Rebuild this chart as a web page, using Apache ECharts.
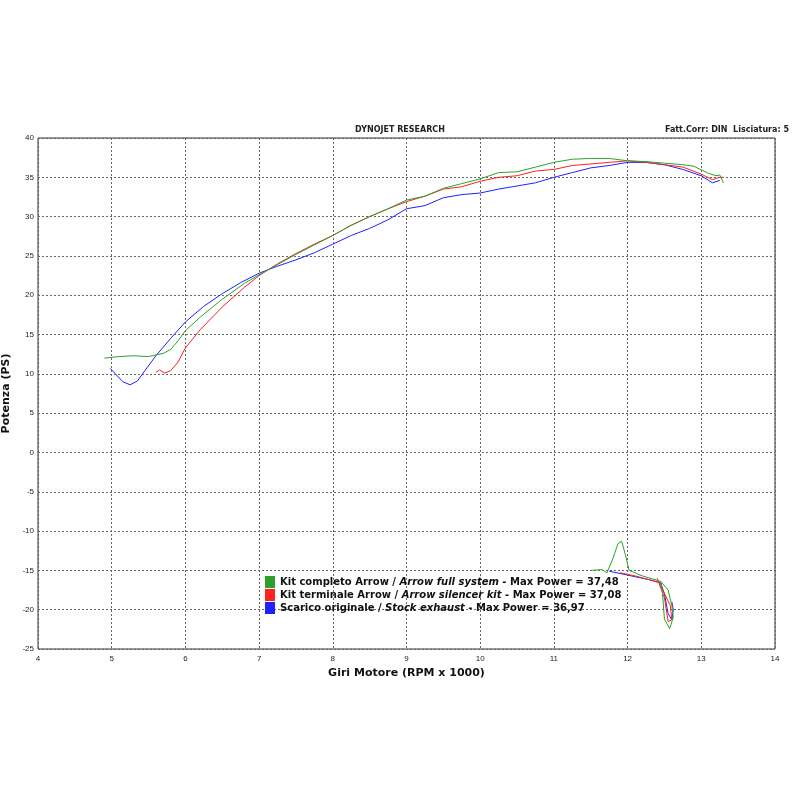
<!DOCTYPE html><html><head><meta charset="utf-8"><script src="https://cdn.jsdelivr.net/npm/echarts@6/dist/echarts.min.js"></script></head><body style="margin:0"><div id="c" style="width:800px;height:800px"></div><script>
const greenMain=[[4.9,12],[5.1,12.2],[5.3,12.3],[5.5,12.2],[5.7,12.6],[5.8,13.1],[5.9,14.2],[6,15.5],[6.2,17.2],[6.5,19.5],[6.8,21.5],[7,22.6],[7.25,23.9],[7.5,25.2],[7.75,26.4],[8,27.6],[8.25,28.9],[8.5,30],[8.75,31],[9,32.1],[9.25,32.6],[9.5,33.6],[9.75,34.2],[10,34.8],[10.25,35.6],[10.5,35.7],[10.75,36.3],[11,36.9],[11.25,37.3],[11.5,37.4],[11.75,37.4],[12,37.1],[12.25,37],[12.5,36.8],[12.75,36.6],[12.9,36.4],[13.1,35.5],[13.2,35.2],[13.25,35.3],[13.3,34.3]];
const greenLoop=[[11.5,-15],[11.65,-14.9],[11.72,-15.3],[11.8,-13.5],[11.87,-11.6],[11.92,-11.3],[11.97,-13],[12.02,-15],[12.2,-15.7],[12.45,-16.4],[12.55,-17.5],[12.6,-19.5],[12.62,-21],[12.57,-22.4],[12.5,-21.2],[12.47,-17.5],[12.45,-16.4]];
const redMain=[[5.6,10.2],[5.65,10.5],[5.72,10.1],[5.8,10.4],[5.9,11.5],[6,13.3],[6.2,15.6],[6.5,18.5],[6.8,21],[7,22.5],[7.25,24],[7.5,25.3],[7.75,26.5],[8,27.6],[8.25,28.9],[8.5,30],[8.75,31],[9,31.9],[9.25,32.6],[9.5,33.5],[9.75,33.8],[10,34.5],[10.25,35],[10.5,35.2],[10.75,35.8],[11,36],[11.25,36.5],[11.5,36.7],[11.75,36.9],[12,37.1],[12.25,36.9],[12.5,36.6],[12.75,36.3],[13,35.4],[13.15,34.7],[13.25,35],[13.3,35]];
const redLoop=[[11.9,-15.3],[12.1,-15.7],[12.3,-16.2],[12.42,-16.5],[12.5,-18.5],[12.55,-21.5],[12.6,-21.3],[12.58,-19.5],[12.4,-16]];
const blueMain=[[4.98,10.7],[5.05,10],[5.15,9],[5.25,8.6],[5.35,9.1],[5.45,10.4],[5.6,12.3],[5.8,14.5],[6,16.6],[6.25,18.6],[6.5,20.2],[6.75,21.6],[7,22.8],[7.25,23.7],[7.5,24.5],[7.75,25.4],[8,26.5],[8.25,27.6],[8.5,28.5],[8.75,29.6],[9,31],[9.25,31.4],[9.5,32.4],[9.75,32.8],[10,33],[10.25,33.5],[10.5,33.9],[10.75,34.3],[11,35],[11.25,35.6],[11.5,36.2],[11.75,36.5],[12,36.9],[12.25,36.9],[12.5,36.6],[12.75,36],[13,35.2],[13.15,34.3],[13.25,34.6]];
const blueLoop=[[11.75,-15.1],[12,-15.6],[12.3,-16.2],[12.45,-16.6],[12.5,-18],[12.55,-20.5],[12.6,-21.3],[12.62,-20],[12.6,-19]];
const names=['Kit completo Arrow / {i|Arrow full system} - Max Power = 37,48','Kit terminale Arrow / {i|Arrow silencer kit} - Max Power = 37,08','Scarico originale / {i|Stock exhaust} - Max Power = 36,97'];
const keys=['A','B','C'];
const cols=['#2ca02c','#ff2020','#2020ff'];
const mk=(n,d,c,z)=>({name:n,type:'line',data:d,symbol:'none',lineStyle:{width:1,color:c},itemStyle:{color:c},z:z});
const chart=echarts.init(document.getElementById('c'));
chart.setOption({
 animation:false,
 title:[{text:'DYNOJET RESEARCH',left:'center',top:121,textStyle:{fontSize:8,fontWeight:'bold',fontFamily:'DejaVu Sans',color:'#222'}},
        {text:'Fatt.Corr: DIN  Lisciatura: 5',right:6,top:121,textStyle:{fontSize:8,fontWeight:'bold',fontFamily:'DejaVu Sans',color:'#222'}}],
 grid:{left:38,right:25,top:138,bottom:151,show:true,borderColor:'#333',borderWidth:1,containLabel:false,outerBoundsMode:'none'},
 legend:{data:keys,orient:'vertical',left:260,top:571,itemGap:1,itemWidth:10,itemHeight:12,icon:'rect',
   formatter:n=>names[keys.indexOf(n)],
   textStyle:{fontSize:10,fontWeight:'bold',fontFamily:'DejaVu Sans',color:'#111',rich:{i:{fontStyle:'italic',fontWeight:'bold',fontSize:10,fontFamily:'DejaVu Sans'}}}},
 xAxis:{type:'value',min:4,max:14,interval:1,name:'Giri Motore (RPM x 1000)',nameLocation:'middle',nameGap:18,
   nameTextStyle:{fontSize:11,fontWeight:'bold',fontFamily:'DejaVu Sans',color:'#111'},
   axisLine:{show:false},axisTick:{show:false},axisLabel:{fontSize:8,color:'#222',margin:6},
   splitLine:{lineStyle:{type:[2,2],color:'#666'}}},
 yAxis:{type:'value',min:-25,max:40,interval:5,name:'Potenza (PS)',nameLocation:'middle',nameGap:24,
   nameTextStyle:{fontSize:11,fontWeight:'bold',fontFamily:'DejaVu Sans',color:'#111'},
   axisLine:{show:false},axisTick:{show:false},axisLabel:{fontSize:8,color:'#222',margin:4},
   splitLine:{lineStyle:{type:[2,2],color:'#666'}}},
 series:[mk('A',greenMain,cols[0],3),mk('B',redMain,cols[1],2),mk('C',blueMain,cols[2],1),
   mk('gl',greenLoop,cols[0],3),mk('rl',redLoop,cols[1],2),mk('bl',blueLoop,cols[2],1)]
});
</script></body></html>
